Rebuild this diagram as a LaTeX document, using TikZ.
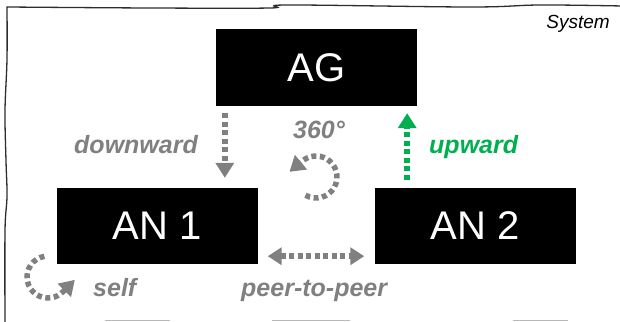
\documentclass[tikz,border=0pt]{standalone}
\usepackage{fontspec}
\setmainfont{Liberation Sans}
\usetikzlibrary{arrows.meta}
\definecolor{flowgray}{RGB}{128,128,128}
\definecolor{upgreen}{RGB}{0,176,80}
\definecolor{framegray}{RGB}{45,45,45}

\begin{document}
\begin{tikzpicture}[x=1pt,y=1pt,
  unit/.style={fill=black, draw=none, minimum width=201pt, minimum height=76pt,
    inner sep=0pt, text=white, font=\fontsize{40}{48}\selectfont},
  flow/.style={line width=5.5pt, dash pattern=on 5pt off 3.5pt, draw=flowgray},
  head/.style={-{Triangle[width=18pt,length=15pt]}},
  twohead/.style={{Triangle[width=17pt,length=14pt]}-{Triangle[width=17pt,length=14pt]}},
  lbl/.style={font=\fontsize{25}{30}\selectfont\bfseries\itshape, text=flowgray,
    inner sep=0pt, anchor=base west},
  sketch/.style={draw=framegray, line width=1.3pt, line cap=round}
]
\useasboundingbox (0,0) rectangle (620,321);

% hand-drawn system frame
\draw[sketch] plot[smooth, tension=0.6] coordinates
  {(5,-2) (5,90) (7,125) (6,160) (5,210) (7,262) (7,314)};
\draw[sketch] plot[smooth, tension=0.6] coordinates
  {(7,314) (150,313) (270,313) (288,316) (470,314) (540,316) (622,315)};
\draw[gray!55, line width=1.5pt] (105,0.5) -- (170,0.5);
\draw[gray!55, line width=1.5pt] (272,0.5) -- (350,0.5);
\draw[gray!55, line width=1.5pt] (513,0.5) -- (568,0.5);

\node[font=\fontsize{19}{23}\selectfont\itshape, anchor=base east, inner sep=0pt]
  (sys) at (610,292) {System};

% units
\node[unit, minimum height=77pt] (AG) at (316.5,253.5) {AG};
\node[unit] (AN1) at (157,95) {AN 1};
\node[unit] (AN2) at (475,95) {AN 2};

% downward
\coordinate (dtop) at ([xshift=9pt]AG.south west);
\draw[flow, head, shorten <=7pt, shorten >=10pt] (dtop) -- (dtop |- AN1.north);
\node[lbl] (ldown) at (74,167) {downward};

% upward
\coordinate (utop) at ([xshift=-10pt]AG.south east);
\draw[flow, draw=upgreen, head, shorten <=8pt, shorten >=7pt] (utop |- AN2.north) -- (utop);
\node[lbl, text=upgreen] (lup) at (429,167) {upward};

% 360 degree turn
\coordinate (turn) at (316,144);
\draw[flow, head] (turn) ++(240:21) arc[start angle=240, end angle=490, radius=21] -- ++(220:17);
\node[lbl, anchor=base] (l360) at (319,182) {360°};

% peer-to-peer
\coordinate (pl) at ([yshift=8pt]AN1.south east);
\draw[flow, twohead, shorten <=10pt, shorten >=10pt] (pl) -- (pl -| AN2.west);
\node[lbl] (lpeer) at (241,25) {peer-to-peer};

% self
\coordinate (selfc) at (48,44);
\draw[flow, head] (selfc) ++(100:21) arc[start angle=100, end angle=315, radius=21] -- ++(45:17);
\node[lbl] (lself) at (93,25) {self};
\end{tikzpicture}
\end{document}
